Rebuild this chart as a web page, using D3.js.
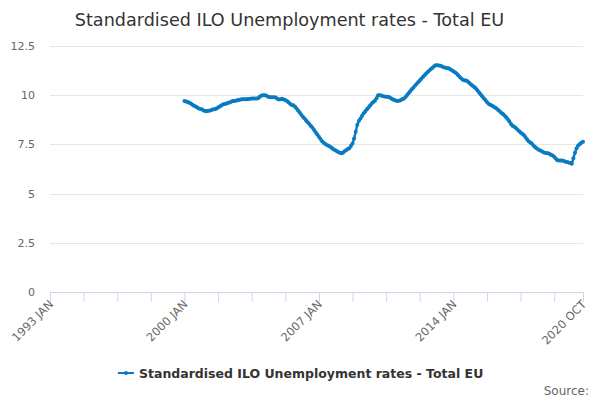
<!DOCTYPE html>
<html>
<head>
<meta charset="utf-8">
<script src="https://cdn.jsdelivr.net/npm/d3@7"></script>
<style>
  body { margin: 0; background: #fff; }
  svg { font-family: "DejaVu Sans", sans-serif; }
</style>
</head>
<body>
<script>
const WIDTH = 600;
const HEIGHT = 400;
const TITLE = "Standardised ILO Unemployment rates - Total EU";
const SERIES = "Standardised ILO Unemployment rates - Total EU";
const COLOR = "#0a7bc0";

const MONTHS = ["JAN","FEB","MAR","APR","MAY","JUN","JUL","AUG","SEP","OCT","NOV","DEC"];
// axis runs from 1993 JAN to 2020 OCT (month index 0..333)
const axisStart = [1993, 0];
const axisEnd = [2020, 9];
// data begins 2000 JAN
const dataStart = [2000, 0];

// monthly rate, %, 2000 JAN .. 2020 OCT
const rates = [
  9.70, 9.68, 9.65, 9.62, 9.58, 9.52, 9.46, 9.42, 9.38, 9.33, 9.30, 9.27,
  9.22, 9.20, 9.19, 9.21, 9.22, 9.25, 9.28, 9.29, 9.33, 9.38, 9.42, 9.48,
  9.53, 9.55, 9.57, 9.60, 9.63, 9.66, 9.70, 9.71, 9.72, 9.74, 9.76, 9.78,
  9.79, 9.80, 9.80, 9.80, 9.81, 9.82, 9.83, 9.83, 9.83, 9.83, 9.85, 9.92,
  9.97, 10.00, 10.00, 9.98, 9.93, 9.91, 9.90, 9.90, 9.90, 9.88, 9.82, 9.78,
  9.80, 9.82, 9.78, 9.75, 9.70, 9.64, 9.57, 9.50, 9.49, 9.42, 9.32, 9.22,
  9.12, 9.01, 8.90, 8.82, 8.72, 8.63, 8.54, 8.44, 8.35, 8.23, 8.12, 8.00,
  7.89, 7.78, 7.66, 7.58, 7.52, 7.47, 7.43, 7.38, 7.33, 7.25, 7.21, 7.17,
  7.12, 7.08, 7.05, 7.08, 7.15, 7.20, 7.26, 7.30, 7.42, 7.55, 7.80, 8.14,
  8.50, 8.70, 8.82, 8.95, 9.08, 9.18, 9.29, 9.38, 9.48, 9.58, 9.66, 9.72,
  9.85, 10.00, 10.00, 9.98, 9.95, 9.93, 9.92, 9.92, 9.90, 9.85, 9.80, 9.76,
  9.73, 9.71, 9.72, 9.74, 9.80, 9.82, 9.90, 10.00, 10.10, 10.20, 10.30, 10.38,
  10.48, 10.57, 10.66, 10.75, 10.84, 10.93, 11.02, 11.10, 11.18, 11.26, 11.33, 11.40,
  11.47, 11.52, 11.52, 11.51, 11.50, 11.46, 11.42, 11.40, 11.38, 11.37, 11.32, 11.27,
  11.22, 11.16, 11.10, 11.02, 10.93, 10.85, 10.78, 10.75, 10.75, 10.70, 10.62, 10.55,
  10.48, 10.42, 10.35, 10.25, 10.15, 10.05, 9.95, 9.85, 9.75, 9.65, 9.56, 9.52,
  9.48, 9.42, 9.38, 9.32, 9.25, 9.18, 9.10, 9.05, 8.97, 8.88, 8.78, 8.66,
  8.54, 8.45, 8.40, 8.34, 8.26, 8.18, 8.10, 8.04, 7.98, 7.88, 7.76, 7.66,
  7.60, 7.54, 7.45, 7.37, 7.30, 7.24, 7.20, 7.16, 7.12, 7.08, 7.06, 7.05,
  7.02, 6.98, 6.93, 6.87, 6.78, 6.70, 6.68, 6.68, 6.68, 6.66, 6.62, 6.60,
  6.58, 6.55, 6.52, 6.80, 7.08, 7.30, 7.45, 7.52, 7.58, 7.64
];

const yTicks = [0, 2.5, 5, 7.5, 10, 12.5];
const xTickMonths = [0, 21, 42, 63, 84, 105, 126, 147, 168, 189, 210, 231, 252, 273, 294, 315, 333];
const xLabelMonths = [0, 84, 168, 252, 333];

const monthIndex = ([y, m]) => (y - axisStart[0]) * 12 + (m - axisStart[1]);
const monthLabel = i => {
  const t = axisStart[0] * 12 + axisStart[1] + i;
  return Math.floor(t / 12) + " " + MONTHS[t % 12];
};

const offset = monthIndex(dataStart);
const data = rates.map((v, i) => ({ m: offset + i, v: v }));

const svg = d3.select("body")
              .append("svg")
              .attr("width", WIDTH)
              .attr("height", HEIGHT);

const x = d3.scaleLinear()
            .domain([0, monthIndex(axisEnd)])
            .range([50, 583]);

const y = d3.scaleLinear()
            .domain([0, 12.5])
            .range([292, 46]);

// title
svg.append("text")
   .attr("x", 289.5)
   .attr("y", 26)
   .attr("text-anchor", "middle")
   .attr("font-size", 17.6)
   .attr("fill", "#333333")
   .text(TITLE);

// grid
svg.append("g")
   .selectAll("line")
   .data(yTicks.filter(d => d > 0))
   .join("line")
   .attr("x1", 50)
   .attr("x2", 583)
   .attr("y1", d => Math.round(y(d)) + 0.5)
   .attr("y2", d => Math.round(y(d)) + 0.5)
   .attr("stroke", "#e6e6e6");

// y labels
svg.append("g")
   .selectAll("text")
   .data(yTicks)
   .join("text")
   .attr("x", 35)
   .attr("y", d => y(d) + 4)
   .attr("text-anchor", "end")
   .attr("font-size", 11)
   .attr("fill", "#666666")
   .text(d => d);

// x axis
const xAxis = svg.append("g")
                 .attr("transform", "translate(0,292)")
                 .call(d3.axisBottom(x)
                         .tickValues(xTickMonths)
                         .tickSize(10)
                         .tickFormat(""));
xAxis.select(".domain").attr("stroke", "#ccd6eb");
xAxis.selectAll(".tick line").attr("stroke", "#ccd6eb");

svg.append("g")
   .selectAll("text")
   .data(xLabelMonths)
   .join("text")
   .attr("transform", d => "translate(" + [x(d) + 4, 305] + ") rotate(-45)")
   .attr("text-anchor", "end")
   .attr("font-size", 11.5)
   .attr("fill", "#666666")
   .text(d => monthLabel(d));

// series
const line = d3.line()
               .x(d => x(d.m))
               .y(d => y(d.v));

svg.append("path")
   .datum(data)
   .attr("d", line)
   .attr("fill", "none")
   .attr("stroke", COLOR)
   .attr("stroke-width", 2.5);

svg.append("g")
   .selectAll("circle")
   .data(data)
   .join("circle")
   .attr("cx", d => x(d.m))
   .attr("cy", d => y(d.v))
   .attr("r", 2)
   .attr("fill", COLOR);

// legend
const legend = svg.append("g")
                  .attr("transform", "translate(118,373)");
legend.append("line")
      .attr("x1", 0)
      .attr("x2", 16)
      .attr("stroke", COLOR)
      .attr("stroke-width", 2);
legend.append("circle")
      .attr("cx", 8)
      .attr("r", 2)
      .attr("fill", COLOR);
legend.append("text")
      .attr("x", 21)
      .attr("y", 5)
      .attr("font-size", 12.5)
      .attr("font-weight", "bold")
      .attr("fill", "#333333")
      .text(SERIES);

svg.append("text")
   .attr("x", 589)
   .attr("y", 395)
   .attr("text-anchor", "end")
   .attr("font-size", 12)
   .attr("fill", "#666666")
   .text("Source:");
</script>
</body>
</html>
